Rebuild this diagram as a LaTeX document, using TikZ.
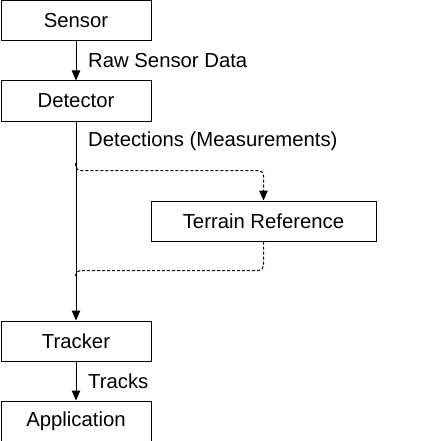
\documentclass[tikz,border=0pt]{standalone}
\usepackage{fontspec}
\setmainfont{Liberation Sans}
\usetikzlibrary{arrows.meta}
\begin{document}
\begin{tikzpicture}[x=1pt,y=1pt,
  font=\fontsize{20.3}{24}\selectfont,
  arrowtip/.tip={Triangle[length=10pt,width=8.5pt]},
  box/.style={draw=black, line width=1pt, fill=white, minimum height=40pt, inner sep=0pt, anchor=north west},
  arr/.style={draw=black, line width=1pt, -arrowtip},
  dashline/.style={draw=black, line width=1pt, dash pattern=on 3pt off 2pt, rounded corners=5pt},
  lbl/.style={anchor=west, inner sep=0pt}]
\useasboundingbox (0,0) rectangle (426,-441);
\node[box, minimum width=150pt] (sensor) at (0.5,-0.5) {Sensor};
\node[box, minimum width=150pt] (detector) at (0.5,-80.5) {Detector};
\node[box, minimum width=225pt] (terrain) at (150.5,-200.5) {Terrain Reference};
\node[box, minimum width=150pt] (tracker) at (0.5,-320.5) {Tracker};
\node[box, minimum width=150pt] (app) at (0.5,-400.5) {Application};
\draw[arr] (sensor.south) -- (detector.north);
\draw[arr] (detector.south) -- (tracker.north);
\draw[arr] (tracker.south) -- (app.north);
\node[lbl] (l1) at (88,-61) {Raw Sensor Data};
\node[lbl] (l2) at (88,-141) {Detections (Measurements)};
\node[lbl] (l3) at (88,-381) {Tracks};
\coordinate (a1) at (75.5,-163);
\coordinate (a2) at (75.5,-277);
\draw[dashline, -arrowtip] (a1) -- (75.5,-170.5) -- (terrain.north |- 0,-170.5) -- (terrain.north);
\draw[dashline] (terrain.south) -- (terrain.south |- 0,-270.5) -- (75.5,-270.5) -- (a2);
\end{tikzpicture}
\end{document}
